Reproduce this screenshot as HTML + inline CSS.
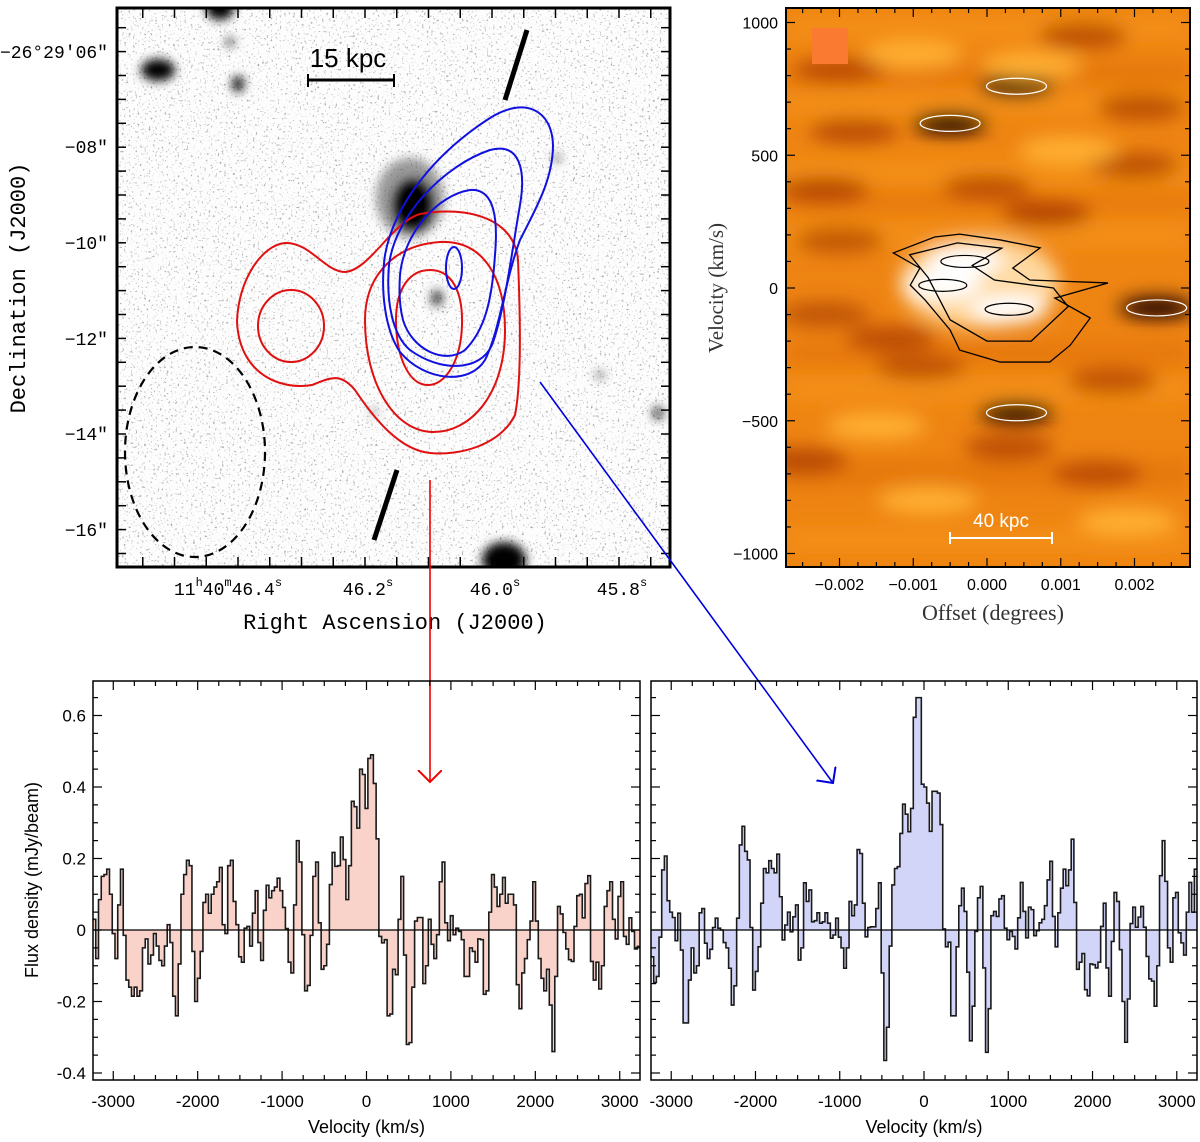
<!DOCTYPE html>
<html><head><meta charset="utf-8"><style>
html,body{margin:0;padding:0;background:#fff;}
svg{display:block;}
.mono{font-family:"Liberation Mono","DejaVu Sans Mono",monospace;}
.serif{font-family:"Liberation Serif","DejaVu Serif",serif;}
.sans{font-family:"Liberation Sans","DejaVu Sans",sans-serif;}
</style></head><body>
<svg id="fig" width="1200" height="1142" viewBox="0 0 1200 1142" xmlns="http://www.w3.org/2000/svg">
<defs>
  <filter id="speckle" x="0" y="0" width="100%" height="100%">
    <feTurbulence type="fractalNoise" baseFrequency="0.45" numOctaves="2" seed="4" result="n"/>
    <feColorMatrix in="n" type="matrix" values="0 0 0 0 0.4  0 0 0 0 0.4  0 0 0 0 0.4  6 0 0 0 -3.7"/>
  </filter>
  <filter id="blurS" x="-50%" y="-50%" width="200%" height="200%"><feGaussianBlur stdDeviation="5"/></filter>
  <filter id="blurPV" x="-20%" y="-50%" width="140%" height="200%"><feGaussianBlur stdDeviation="9"/></filter>
  <clipPath id="clipImg"><rect x="117" y="8" width="553" height="559"/></clipPath>
  <clipPath id="clipPV"><rect x="786" y="8" width="404" height="559"/></clipPath>
  <clipPath id="clipL"><rect x="93" y="681" width="547" height="399"/></clipPath>
  <clipPath id="clipR"><rect x="651" y="681" width="546" height="399"/></clipPath>
  <marker id="arrR" markerWidth="30" markerHeight="30" refX="12" refY="12" orient="auto" markerUnits="userSpaceOnUse"><path d="M0,0 L12,12 L0,24" fill="none" stroke="#e00" stroke-width="2"/></marker>
  <marker id="arrB" markerWidth="30" markerHeight="30" refX="12" refY="12" orient="auto" markerUnits="userSpaceOnUse"><path d="M0,0 L12,12 L0,24" fill="none" stroke="#00d" stroke-width="2"/></marker>
</defs>

<g>
  <g clip-path="url(#clipImg)">
    <rect x="117" y="8" width="553" height="559" fill="#fdfdfd"/>
    <rect x="117" y="8" width="553" height="559" filter="url(#speckle)"/>
    <g filter="url(#blurS)">
      <ellipse cx="410" cy="198" rx="34" ry="40" fill="#555" opacity="0.6"/>
      <ellipse cx="413" cy="205" rx="20" ry="26" fill="#000"/>
      <ellipse cx="158" cy="70" rx="17" ry="11" fill="#000"/>
      <ellipse cx="238" cy="84" rx="6" ry="8" fill="#000"/>
      <ellipse cx="230" cy="42" rx="4" ry="4" fill="#111"/>
      <ellipse cx="220" cy="8" rx="14" ry="12" fill="#000"/>
      <ellipse cx="504" cy="560" rx="22" ry="18" fill="#000"/>
      <ellipse cx="658" cy="413" rx="5" ry="6" fill="#111"/>
      <ellipse cx="600" cy="375" rx="4" ry="4" fill="#555"/>
      <ellipse cx="437" cy="298" rx="6" ry="8" fill="#333"/>
      <ellipse cx="557" cy="158" rx="4" ry="4" fill="#555"/>
      <ellipse cx="374" cy="412" rx="3" ry="3" fill="#444"/>
    </g>
    <g fill="none" stroke="#e01010" stroke-width="2">
      <path d="M237,322 C238,280 262,245 285,243 C310,242 325,272 345,272 C370,270 392,222 420,214 C470,205 515,220 518,260 C520,310 522,380 515,415 C500,445 460,456 430,453 C400,450 375,420 355,390 C340,372 330,378 312,385 C285,390 240,378 237,322 Z"/>
      <ellipse cx="291" cy="326" rx="33" ry="36"/>
      <path d="M365,320 C365,275 395,245 440,242 C485,240 505,280 505,330 C505,395 470,433 432,432 C395,431 365,385 365,320 Z"/>
      <path d="M396,320 C396,288 410,270 430,270 C452,270 463,292 462,325 C461,360 446,385 428,385 C408,385 396,355 396,320 Z"/>
    </g>
    <g fill="none" stroke="#1010e0" stroke-width="2">
      <path d="M385,255 C395,200 440,150 490,118 C525,96 552,110 553,145 C553,180 535,210 520,240 C505,280 500,330 485,360 C470,385 425,382 400,352 C385,330 380,290 385,255 Z"/>
      <path d="M389,265 C395,215 445,165 490,150 C520,142 526,170 520,205 C512,250 505,310 492,345 C480,372 440,372 410,350 C392,335 386,300 389,265 Z"/>
      <path d="M400,275 C404,232 438,195 470,190 C495,188 498,220 495,255 C492,300 485,330 465,350 C445,365 412,350 403,320 C399,305 399,290 400,275 Z"/>
      <ellipse cx="454" cy="268" rx="8" ry="21"/>
    </g>
    <ellipse cx="195" cy="452" rx="70" ry="105" fill="none" stroke="#000" stroke-width="2.2" stroke-dasharray="9,6"/>
    <line x1="505" y1="100" x2="527" y2="30" stroke="#000" stroke-width="5"/>
    <line x1="374" y1="540" x2="397" y2="470" stroke="#000" stroke-width="5"/>
    <g>
      <line x1="308" y1="80" x2="394" y2="80" stroke="#000" stroke-width="3"/>
      <line x1="308" y1="74" x2="308" y2="87" stroke="#000" stroke-width="2"/>
      <line x1="394" y1="74" x2="394" y2="87" stroke="#000" stroke-width="2"/>
      <text x="348" y="67" text-anchor="middle" class="sans" font-size="26" fill="#000">15 kpc</text>
    </g>
  </g>
  <g id="imgTicks"></g>
  <rect x="117" y="8" width="553" height="559" fill="none" stroke="#000" stroke-width="3"/>
  <g class="mono" font-size="18" fill="#000" text-anchor="end">
    <text x="108" y="58">−26°29′06″</text>
    <text x="108" y="153">−08″</text>
    <text x="108" y="249">−10″</text>
    <text x="108" y="345">−12″</text>
    <text x="108" y="440">−14″</text>
    <text x="108" y="536">−16″</text>
  </g>
  <g class="mono" font-size="18" fill="#000" text-anchor="middle">
    <text x="228" y="595">11<tspan font-size="12" dy="-9">h</tspan><tspan dy="9">40</tspan><tspan font-size="12" dy="-9">m</tspan><tspan dy="9">46.4</tspan><tspan font-size="12" dy="-9">s</tspan></text>
    <text x="368" y="595">46.2<tspan font-size="12" dy="-9">s</tspan></text>
    <text x="495" y="595">46.0<tspan font-size="12" dy="-9">s</tspan></text>
    <text x="622" y="595">45.8<tspan font-size="12" dy="-9">s</tspan></text>
  </g>
  <text x="395" y="629" text-anchor="middle" class="mono" font-size="22">Right Ascension (J2000)</text>
  <text transform="translate(25,288) rotate(-90)" text-anchor="middle" class="mono" font-size="22">Declination (J2000)</text>
</g>

<g>
  <g clip-path="url(#clipPV)">
    <rect x="786" y="8" width="404" height="559" fill="#ee8412"/>
    <g id="pvBlobs" filter="url(#blurPV)"></g>
    <g id="pvContours"></g>
    <rect x="812" y="28" width="36" height="36" fill="#f97a30"/>
    <g>
      <line x1="950" y1="538" x2="1052" y2="538" stroke="#fff" stroke-width="2"/>
      <line x1="950" y1="532" x2="950" y2="544" stroke="#fff" stroke-width="2"/>
      <line x1="1052" y1="532" x2="1052" y2="544" stroke="#fff" stroke-width="2"/>
      <text x="1001" y="527" text-anchor="middle" class="sans" font-size="19" fill="#fff">40 kpc</text>
    </g>
  </g>
  <g id="pvTicks"></g>
  <rect x="786" y="8" width="404" height="559" fill="none" stroke="#000" stroke-width="2"/>
  <text x="993" y="620" text-anchor="middle" class="serif" font-size="22" fill="#333">Offset (degrees)</text>
  <text transform="translate(723,288) rotate(-90)" text-anchor="middle" class="serif" font-size="21" fill="#333">Velocity (km/s)</text>
</g>

<line x1="430" y1="480" x2="430" y2="782" stroke="#e00" stroke-width="1.6" marker-end="url(#arrR)"/>
<line x1="540" y1="382" x2="833" y2="783" stroke="#00d" stroke-width="1.6" marker-end="url(#arrB)"/>

<g id="specL"></g>
<g id="specR"></g>
<text transform="translate(38,880) rotate(-90)" text-anchor="middle" class="sans" font-size="18">Flux density (mJy/beam)</text>
</svg>

<script>
const specVelMin = -3240;
const specVelMax = 3240;
const fluxTicks = [-0.4, -0.2, 0, 0.2, 0.4, 0.6];
const fluxTickLabels = ["-0.4", "-0.2", "0", "0.2", "0.4", "0.6"];
const velTicks = [-3000, -2000, -1000, 0, 1000, 2000, 3000];
const velTickLabels = ["-3000", "-2000", "-1000", "0", "1000", "2000", "3000"];
const redFlux = [0.03,-0.08,0.085,0.15,0.155,0.17,0.10,-0.01,-0.08,0.07,0.17,-0.015,-0.14,-0.16,-0.185,-0.16,-0.185,-0.17,-0.05,-0.025,-0.095,-0.07,-0.01,-0.045,-0.085,-0.10,-0.045,0.015,-0.035,-0.185,-0.24,-0.095,0.10,0.155,0.195,0.18,-0.06,-0.20,-0.135,-0.06,0.077,0.10,0.047,0.10,0.12,0.135,0.175,0.015,-0.01,0.18,0.195,0.08,0.015,-0.075,-0.09,0.005,0.01,-0.045,0.047,0.11,-0.035,-0.085,0.055,0.125,0.09,0.11,0.12,0.145,0.11,0.063,0.004,-0.09,-0.12,0.07,0.25,0.19,-0.013,-0.17,-0.155,-0.015,0.15,0.19,0.02,-0.11,-0.10,-0.04,0.127,0.217,0.178,0.18,0.26,0.197,0.085,0.18,0.36,0.345,0.285,0.45,
0.435,0.34,0.48,0.49,0.41,0.255,-0.018,-0.036,-0.027,-0.24,-0.235,-0.11,-0.125,0.03,0.15,-0.07,-0.32,-0.315,-0.16,0.025,0.035,0.035,-0.15,-0.10,0.03,-0.04,-0.08,-0.013,0.135,0.19,0.02,-0.03,0.04,-0.013,0.005,-0.004,-0.027,-0.13,-0.13,-0.05,-0.06,-0.09,-0.025,-0.027,-0.18,-0.17,0.05,0.155,0.12,0.066,0.10,0.147,0.075,0.10,0.10,0.07,-0.153,-0.22,-0.12,-0.08,-0.027,0.025,0.135,0.025,-0.08,-0.135,-0.17,-0.11,-0.21,-0.34,-0.13,0.066,0.045,-0.007,-0.053,-0.083,-0.088,0.01,0.096,0.10,0.034,0.13,0.152,-0.088,-0.14,-0.09,-0.165,-0.10,0.066,0.11,0.135,0.03,-0.025,0.094,0.135,-0.018,-0.04,0.034,-0.004,-0.053,-0.046];
const blueFlux = [-0.075,-0.147,-0.13,-0.02,0.168,0.207,0.082,0.05,0.035,-0.03,0.047,-0.056,-0.26,-0.26,-0.14,-0.05,-0.12,-0.1,0.048,0.06,-0.037,-0.08,-0.054,0.007,0.033,0.005,0.0,-0.035,-0.05,-0.107,-0.21,-0.156,0.033,0.238,0.29,0.22,0.196,0.007,-0.168,-0.116,-0.047,0.075,0.172,0.16,0.194,0.172,0.16,0.212,0.093,-0.028,0.014,0.05,-0.005,0.037,0.07,-0.084,-0.05,0.132,0.08,0.112,0.023,0.026,
0.048,0.019,0.023,0.048,0.019,-0.023,-0.014,0.033,-0.02,-0.05,-0.107,-0.05,
0.08,0.04,0.07,0.225,0.214,0.075,-0.019,0.007,0.009,0.009,0.06,0.132,-0.12,-0.365,-0.272,-0.045,0.126,0.172,0.177,0.27,0.352,0.324,0.275,0.34,0.595,0.65,0.65,0.408,0.40,
0.355,0.276,0.388,0.388,0.383,0.295,0.003,-0.047,-0.034,-0.24,-0.24,-0.047,0.068,0.117,0.052,-0.118,-0.31,-0.213,-0.004,0.09,0.122,-0.106,-0.342,-0.22,0.04,0.052,0.038,0.087,0.096,0.005,-0.027,-0.004,-0.018,-0.053,0.034,0.133,0.052,-0.022,0.064,0.057,-0.016,-0.002,0.02,0.03,0.068,0.14,0.192,0.038,-0.047,0.048,0.117,0.17,0.124,0.168,0.254,0.077,-0.11,-0.09,-0.066,-0.167,-0.184,-0.095,-0.097,-0.106,-0.09,0.01,0.075,-0.106,-0.185,-0.032,0.105,0.08,-0.055,-0.2,-0.314,-0.193,0.018,0.064,0.008,0.036,0.066,0.008,-0.074,-0.137,-0.143,-0.213,-0.1,0.152,0.25,0.136,-0.05,-0.09,0.09,0.105,-0.008,-0.036,-0.07,0.05,0.133,0.05,0.17];

const pvOffsetTicks = [-0.002, -0.001, 0.0, 0.001, 0.002];
const pvOffsetLabels = ["−0.002", "−0.001", "0.000", "0.001", "0.002"];
const pvVelTicks = [-1000, -500, 0, 500, 1000];
const pvVelLabels = ["−1000", "−500", "0", "500", "1000"];
const pvBlobOffset = [-0.0005, 0.0004, 0.0023, 0.0004, -0.0018, -0.0025, 0.0003, -0.0013, 0.0013, 0.0020, -0.0022, 0.0008, -0.0020, 0.0017, -0.0001, -0.0003, 0.0003, -0.0006, 0.0006, -0.0010, 0.0011, -0.0015, 0.0019, -0.0008, -0.0020, 0.0021, -0.0009, 0.0015, -0.0022, 0.0000];
const pvBlobVel    = [620, 760, -75, -470, 590, -650, -600, -190, 950, 460, 370, 280, 180, -350, 20, 100, -80, 10, 840, 880, 520, -520, -880, -800, 820, 680, -300, -700, -100, 380];
const pvBlobInt    = [-1, -0.9, -0.95, -0.95, -0.5, -0.6, -0.5, -0.5, -0.5, -0.5, -0.6, -0.7, -0.4, -0.45, 0.6, 1, 1, 0.9, 0.4, 0.45, 0.35, 0.4, 0.4, 0.35, -0.45, -0.5, -0.4, -0.45, -0.4, -0.45];
const pvContourOuterOff = [-0.00127,-0.00071,-0.00037,0.00018,0.00072,0.00035,0.00058,0.00164,0.00092,0.0014,0.00113,0.00085,0.00018,-0.00037,-0.0005,-0.00084,-0.00104,-0.00091];
const pvContourOuterVel = [132,192,203,181,151,75,30,19,-38,-113,-215,-279,-279,-234,-158,-45,11,75];
const pvContourInnerOff = [-0.00105,-0.0004,0.0002,-0.0002,0.0001,0.0009,0.0011,0.0006,0.0,-0.0005,-0.0008];
const pvContourInnerVel = [125,170,150,85,30,0,-70,-200,-200,-120,40];

const NS = "http://www.w3.org/2000/svg";
function mk(tag, attrs, parent){ const e=document.createElementNS(NS,tag); for(const k in attrs) e.setAttribute(k,attrs[k]); parent.appendChild(e); return e; }

function drawSpectrum(gid, x0, x1, flux, fill, showYLabels, clipId){
  const g = document.getElementById(gid);
  const yTop = 681, yBot = 1080;
  const xs = v => x0 + (v - specVelMin) / (specVelMax - specVelMin) * (x1 - x0);
  const ys = f => 930 - f * 357.5;
  const dv = (specVelMax - specVelMin) / flux.length;
  let d = "M" + xs(specVelMin) + "," + ys(0);
  let line = "";
  flux.forEach((f,i)=>{
    const a = xs(specVelMin + i*dv), b = xs(specVelMin + (i+1)*dv);
    d += " L" + a + "," + ys(f) + " L" + b + "," + ys(f);
    line += (i===0?"M":" L") + a + "," + ys(f) + " L" + b + "," + ys(f);
  });
  d += " L" + xs(specVelMax) + "," + ys(0) + " Z";
  const cg = mk("g", {"clip-path":"url(#"+clipId+")"}, g);
  const area = mk("path", {d:d, fill:fill, stroke:"none"}, cg);
  
  
  const st = mk("path", {d:line, fill:"none", stroke:"#1a1a1a", "stroke-width":1.6}, cg);
  
  
  const z = mk("line", {x1:x0, x2:x1, y1:ys(0), y2:ys(0), stroke:"#000", "stroke-width":1.3}, cg);
  
  
  const tg = mk("g", {stroke:"#000", "stroke-width":1.2}, g);
  
  
  for (let v=-3000; v<=3000; v+=250){
    const major = v % 1000 === 0, len = major ? 9 : 5;
    mk("line",{x1:xs(v),x2:xs(v),y1:yBot,y2:yBot-len},tg);
    mk("line",{x1:xs(v),x2:xs(v),y1:yTop,y2:yTop+len},tg);
  }
  for (let k=-8; k<=13; k++){
    const f = k*0.05, y = ys(f); if (y<yTop || y>yBot) continue;
    const len = (k%4===0) ? 9 : 5;
    mk("line",{x1:x0,x2:x0+len,y1:y,y2:y},tg);
    mk("line",{x1:x1,x2:x1-len,y1:y,y2:y},tg);
  }
  velTicks.forEach((v,i)=>{
    const t = mk("text",{x:xs(v), y:1107, "text-anchor":"middle", "font-size":17, class:"sans"}, g);
    t.textContent = velTickLabels[i];
    
    
  });
  if (showYLabels){
    fluxTicks.forEach((f,i)=>{
      const t = mk("text",{x:x0-7, y:ys(f)+6, "text-anchor":"end", "font-size":17, class:"sans"}, g);
      t.textContent = fluxTickLabels[i];
      
      
    });
  }
  const fr = mk("rect",{x:x0,y:yTop,width:x1-x0,height:yBot-yTop,fill:"none",stroke:"#000","stroke-width":1.5}, g);
  
  
  const ti = mk("text",{x:(x0+x1)/2, y:1133, "text-anchor":"middle", "font-size":18, class:"sans"}, g);
  ti.textContent = "Velocity (km/s)";
  
  
}
drawSpectrum("specL", 93, 640, redFlux, "#f9d2ca", true, "clipL");
drawSpectrum("specR", 651, 1197, blueFlux, "#d2d5f8", false, "clipR");

const pvX = o => 987 + o * 73750;
const pvY = v => 288 - v * 0.2655;
(function(){
  const bg = document.getElementById("pvBlobs");
  const bandVel = [980, 800, 700, 430, 330, 200, -250, -380, -700, -950];
  const bandInt = [0.3, -0.3, 0.3, 0.35, -0.2, 0.3, -0.25, 0.3, -0.3, 0.3];
  bandVel.forEach((v,i)=>{
    const r = mk("rect",{x:786, y:pvY(v)-14, width:404, height:28, fill: bandInt[i]>0 ? "#fba020" : "#d8600a", opacity:Math.abs(bandInt[i])*1.1}, bg);
    
    
  });
  pvBlobOffset.forEach((o,i)=>{
    const I = pvBlobInt[i];
    let col, rx, ry;
    if (I <= -0.85){ col="#1a0300"; rx=38; ry=11; }
    else if (I < 0){ col="#a83800"; rx=45; ry=13; }
    else if (I >= 0.9){ col="#ffffff"; rx=38; ry=14; }
    else if (I >= 0.55){ col="#ffd9a0"; rx=80; ry=45; }
    else { col="#ffae30"; rx=50; ry=14; }
    const e = mk("ellipse",{cx:pvX(o), cy:pvY(pvBlobVel[i]), rx:rx, ry:ry, fill:col, opacity: I<0 ? Math.min(1,0.4+Math.abs(I)*0.6) : 1}, bg);
    
    
  });
  const cg = document.getElementById("pvContours");
  function poly(offs, vels, stroke){
    const pts = offs.map((o,i)=>pvX(o)+","+pvY(vels[i])).join(" ");
    const p = mk("polygon",{points:pts, fill:"none", stroke:stroke, "stroke-width":1.3}, cg);
    
    
  }
  poly(pvContourOuterOff, pvContourOuterVel, "#000");
  poly(pvContourInnerOff, pvContourInnerVel, "#000");
  pvBlobOffset.forEach((o,i)=>{
    const I = pvBlobInt[i];
    if (I <= -0.85 || I >= 0.9){
      const e = mk("ellipse",{cx:pvX(o), cy:pvY(pvBlobVel[i]), rx:I<0?30:24, ry:I<0?8:6, fill:"none", stroke:I<0?"#fff":"#000", "stroke-width":1.2}, cg);
      
      
    }
  });
  const tg = document.getElementById("pvTicks");
  for (let o=-0.0025; o<=0.00251; o+=0.00025){
    const major = Math.abs(Math.round(o*10000) % 10) === 0;
    const len = major ? 9 : 5;
    mk("line",{x1:pvX(o),x2:pvX(o),y1:567,y2:567-len,stroke:"#000","stroke-width":1.2},tg);
    mk("line",{x1:pvX(o),x2:pvX(o),y1:8,y2:8+len,stroke:"#000","stroke-width":1.2},tg);
  }
  for (let v=-1000; v<=1000; v+=100){
    const len = (v%500===0) ? 9 : 5;
    mk("line",{x1:786,x2:786+len,y1:pvY(v),y2:pvY(v),stroke:"#000","stroke-width":1.2},tg);
    mk("line",{x1:1190,x2:1190-len,y1:pvY(v),y2:pvY(v),stroke:"#000","stroke-width":1.2},tg);
  }
  pvOffsetTicks.forEach((o,i)=>{
    const t = mk("text",{x:pvX(o), y:590, "text-anchor":"middle", "font-size":16, class:"sans"}, tg);
    t.textContent = pvOffsetLabels[i];
    
    
  });
  pvVelTicks.forEach((v,i)=>{
    const t = mk("text",{x:778, y:pvY(v)+6, "text-anchor":"end", "font-size":16, class:"sans"}, tg);
    t.textContent = pvVelLabels[i];
    
    
  });
})();

(function(){
  const tg = document.getElementById("imgTicks");
  for (let y=52-4*24; y<=567; y+=23.9){
    if (y<10) continue;
    mk("line",{x1:117,x2:126,y1:y,y2:y,stroke:"#000","stroke-width":1.5},tg);
    mk("line",{x1:670,x2:661,y1:y,y2:y,stroke:"#000","stroke-width":1.5},tg);
  }
  for (let x=238-3*31.75; x<=670; x+=31.75){
    if (x<119) continue;
    mk("line",{x1:x,x2:x,y1:567,y2:557,stroke:"#000","stroke-width":1.5},tg);
    mk("line",{x1:x,x2:x,y1:8,y2:18,stroke:"#000","stroke-width":1.5},tg);
  }
})();
</script>
</body></html>
